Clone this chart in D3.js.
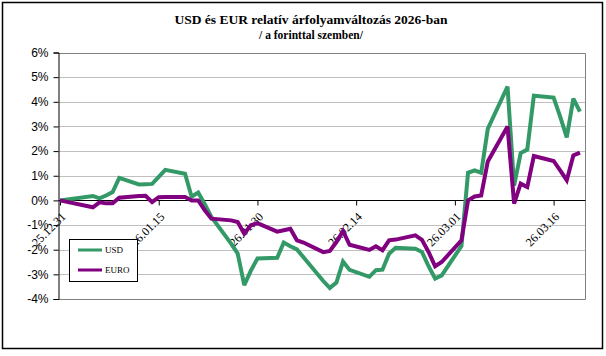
<!DOCTYPE html>
<html>
<head>
<meta charset="utf-8">
<script src="https://cdn.jsdelivr.net/npm/d3@7"></script>
<style>
  html, body { margin: 0; padding: 0; background: #fff; }
  svg { display: block; }
</style>
</head>
<body>
<svg id="chart" width="606" height="356"></svg>
<script>
// ---- DATA ----
const dates = [
  "2025-12-31","2026-01-05","2026-01-06","2026-01-07","2026-01-08","2026-01-09",
  "2026-01-12","2026-01-13","2026-01-14","2026-01-15","2026-01-16",
  "2026-01-19","2026-01-20","2026-01-21","2026-01-22","2026-01-23",
  "2026-01-26","2026-01-27","2026-01-28","2026-01-29","2026-01-30",
  "2026-02-02","2026-02-03","2026-02-04","2026-02-05","2026-02-06",
  "2026-02-09","2026-02-10","2026-02-11","2026-02-12","2026-02-13",
  "2026-02-16","2026-02-17","2026-02-18","2026-02-19","2026-02-20",
  "2026-02-23","2026-02-24","2026-02-25","2026-02-26","2026-02-27",
  "2026-03-02","2026-03-03","2026-03-04","2026-03-05","2026-03-06",
  "2026-03-09","2026-03-10","2026-03-11","2026-03-12","2026-03-13",
  "2026-03-16","2026-03-17","2026-03-18","2026-03-19","2026-03-20"
];
const usd = [
  0.00, 0.18, 0.08, 0.20, 0.34, 0.91,
  0.65, 0.66, 0.67, 0.95, 1.24,
  1.08, 0.15, 0.32, -0.15, -0.67,
  -1.75, -2.16, -3.44, -2.85, -2.36,
  -2.33, -1.71, -1.86, -1.99, -2.31,
  -3.27, -3.55, -3.33, -2.48, -2.82,
  -3.10, -2.83, -2.81, -2.16, -1.92,
  -1.96, -2.09, -2.67, -3.17, -3.04,
  -1.85, 1.12, 1.22, 1.12, 2.90,
  4.62, 0.60, 1.92, 2.06, 4.25,
  4.17, 3.40, 2.56, 4.13, 3.60
];
const euro = [
  0.00, -0.28, -0.08, -0.12, -0.12, 0.11,
  0.18, 0.19, -0.07, 0.13, 0.14,
  0.14, 0.00, 0.00, -0.40, -0.74,
  -0.81, -0.88, -1.35, -1.01, -0.92,
  -1.27, -1.21, -1.15, -1.62, -1.71,
  -2.10, -2.05, -1.69, -1.24, -1.80,
  -2.01, -1.86, -2.02, -1.62, -1.59,
  -1.42, -1.60, -2.09, -2.67, -2.50,
  -1.62, 0.00, 0.16, 0.20, 1.58,
  3.00, -0.13, 0.68, 0.54, 1.80,
  1.60, 1.22, 0.82, 1.82, 1.94
];
const yTicks = [-4, -3, -2, -1, 0, 1, 2, 3, 4, 5, 6];
const xTickDates = ["2025-12-31","2026-01-15","2026-01-30","2026-02-14","2026-03-01","2026-03-16"];
const seriesNames = ["USD", "EURO"];
const titleText = "USD és EUR relatív árfolyamváltozás 2026-ban";
const subtitleText = "/ a forinttal szemben/";

// ---- LAYOUT ----
const svg = d3.select("#chart");
const parse = d3.timeParse("%Y-%m-%d");
const plot = { left: 58.5, right: 585.5, top: 52.5, bottom: 299 };
const x = d3.scaleTime()
  .domain([parse("2025-12-31"), parse("2026-03-21")])
  .range([60, 586.5]);
const y = d3.scaleLinear().domain([-4, 6]).range([plot.bottom, plot.top]);
const colors = { USD: "#339966", EURO: "#800080" };

// outer border
svg.append("rect").attr("x", 2.5).attr("y", 2.5).attr("width", 600).attr("height", 346)
  .attr("fill", "#fff").attr("stroke", "#000").attr("stroke-width", 1.5);

// title
svg.append("text").attr("x", 311).attr("y", 24).attr("text-anchor", "middle")
  .attr("font-family", "Liberation Serif, Times New Roman, serif").attr("font-weight", "bold")
  .attr("font-size", 13.5).text(titleText);
svg.append("text").attr("x", 311).attr("y", 39).attr("text-anchor", "middle")
  .attr("font-family", "Liberation Serif, Times New Roman, serif").attr("font-weight", "bold")
  .attr("font-size", 11.5).text(subtitleText);

// gridlines
const g = svg.append("g");
g.selectAll("line.grid").data(yTicks.filter(d => d !== 0 && d !== -4 && d !== 6)).enter()
  .append("line").attr("class", "grid")
  .attr("x1", plot.left).attr("x2", plot.right)
  .attr("y1", d => Math.round(y(d)) + 0.5).attr("y2", d => Math.round(y(d)) + 0.5)
  .attr("stroke", "#c0c0c0").attr("stroke-width", 1);
// plot frame (top, right, bottom)
g.append("path")
  .attr("d", `M${plot.left},${Math.round(y(6)) + 0.5}H${plot.right}V${Math.round(y(-4)) + 0.5}H${plot.left}`)
  .attr("fill", "none").attr("stroke", "#808080").attr("stroke-width", 1);

// y axis
const yAxis = d3.axisLeft(y).tickValues(yTicks).tickSize(5).tickFormat(d => d + "%");
const yg = svg.append("g").attr("transform", `translate(${plot.left},0)`).call(yAxis);
yg.select(".domain").attr("stroke", "#000");
yg.selectAll(".tick line").attr("stroke", "#000");
yg.selectAll(".tick text").attr("font-family", "Liberation Sans, Arial, sans-serif")
  .attr("font-size", 12).attr("fill", "#000").attr("x", -10);

// zero line and x ticks
const xAxis = d3.axisBottom(x).tickValues(xTickDates.map(parse)).tickSize(5)
  .tickFormat(d3.timeFormat("%y.%m.%d"));
const xg = svg.append("g").attr("transform", `translate(0,${Math.round(y(0)) + 0.5})`).call(xAxis);
xg.select(".domain").remove();
xg.append("line").attr("x1", plot.left).attr("x2", plot.right).attr("stroke", "#000");
xg.selectAll(".tick line").attr("stroke", "#000");
xg.selectAll(".tick text")
  .attr("font-family", "Liberation Serif, Times New Roman, serif").attr("font-size", 12)
  .attr("fill", "#000").attr("text-anchor", "end").attr("dy", null).attr("y", null)
  .attr("transform", "translate(6,17) rotate(-45)");

// lines
const parsedDates = dates.map(parse);
const line = d3.line().x((d, i) => x(parsedDates[i])).y(d => y(d));
[["USD", usd], ["EURO", euro]].forEach(([name, vals]) => {
  svg.append("path").datum(vals).attr("d", line).attr("fill", "none")
    .attr("stroke", colors[name]).attr("stroke-width", 4).attr("stroke-linejoin", "miter")
    .attr("stroke-miterlimit", 3);
});

// legend
const lg = svg.append("g");
lg.append("rect").attr("x", 69.5).attr("y", 239.5).attr("width", 68).attr("height", 42)
  .attr("fill", "#fff").attr("stroke", "#000").attr("stroke-width", 1);
seriesNames.forEach((name, i) => {
  const yy = 250 + i * 20;
  lg.append("line").attr("x1", 78).attr("x2", 102).attr("y1", yy).attr("y2", yy)
    .attr("stroke", colors[name]).attr("stroke-width", 3);
  lg.append("text").attr("x", 105).attr("y", yy + 3).attr("font-size", 9)
    .attr("font-family", "Liberation Serif, Times New Roman, serif").attr("fill", "#000").text(name);
});
</script>
</body>
</html>
